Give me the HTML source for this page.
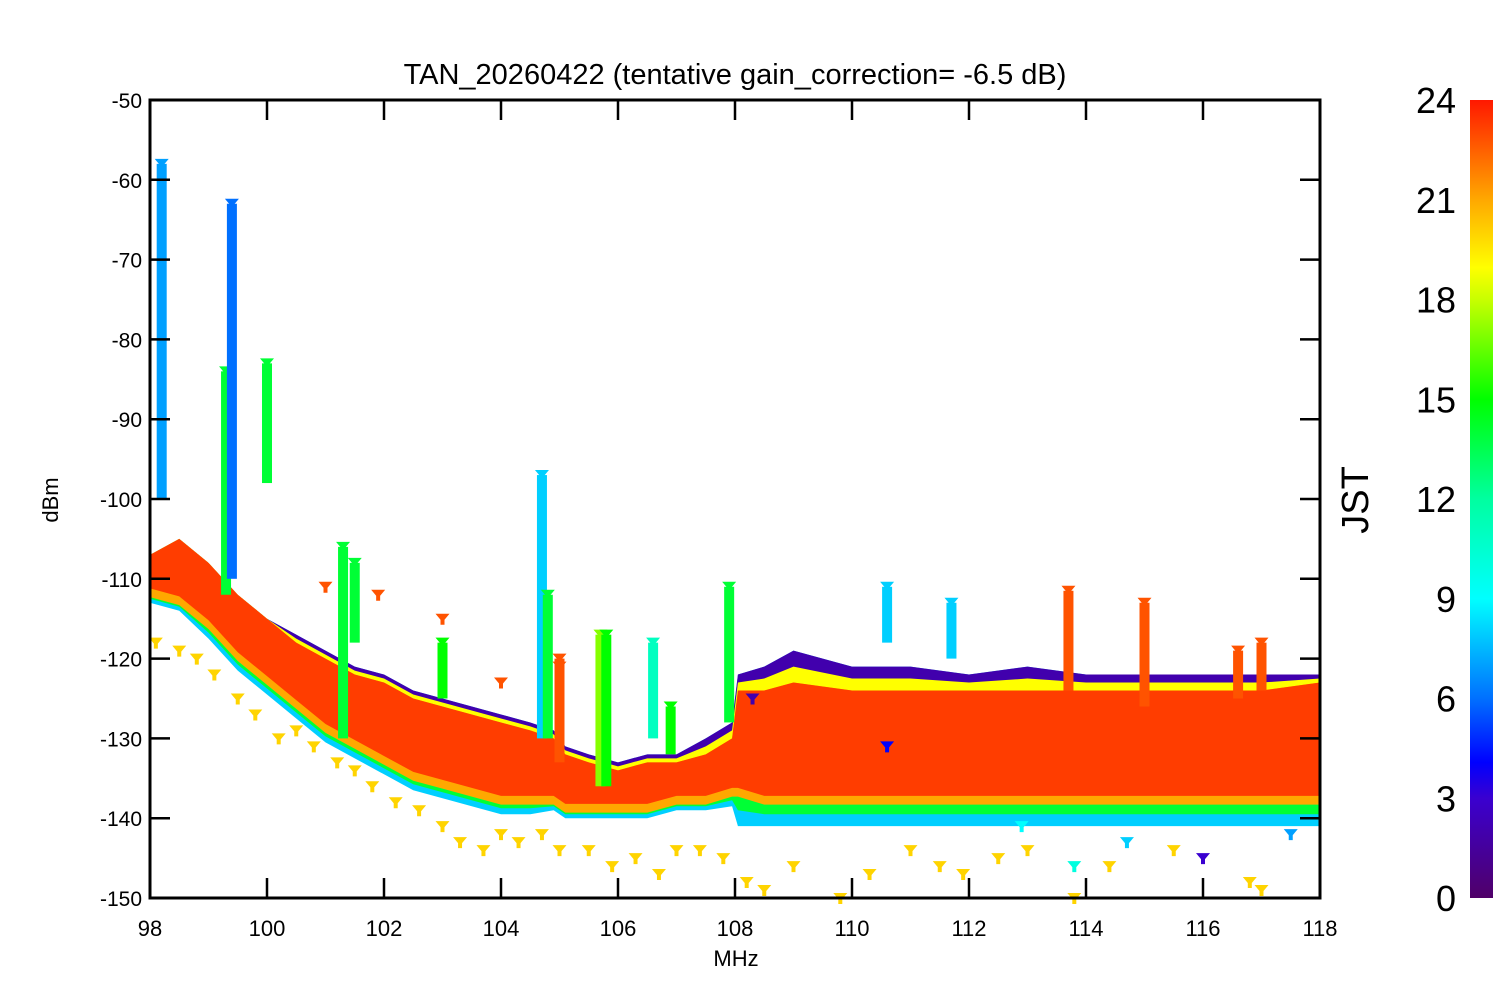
<!DOCTYPE html>
<html><head><meta charset="utf-8"><style>
body{margin:0;background:#fff;}
svg{display:block;font-family:"Liberation Sans",Arial,sans-serif;}
</style></head><body>
<svg id="chart" width="1500" height="1000" xmlns="http://www.w3.org/2000/svg">
<defs>
<linearGradient id="cbar" x1="0" y1="1" x2="0" y2="0">
<stop offset="0" stop-color="#500068"/><stop offset="0.125" stop-color="#3a00d0"/>
<stop offset="0.17" stop-color="#0000ff"/><stop offset="0.25" stop-color="#0070ff"/>
<stop offset="0.375" stop-color="#00ffff"/><stop offset="0.5" stop-color="#00ffa0"/>
<stop offset="0.625" stop-color="#00ff00"/><stop offset="0.75" stop-color="#c8ff00"/>
<stop offset="0.79" stop-color="#ffff00"/><stop offset="0.875" stop-color="#ffa800"/>
<stop offset="1" stop-color="#ff1800"/></linearGradient>
</defs>
<text x="735" y="84" font-size="29" text-anchor="middle">TAN_20260422 (tentative gain_correction= -6.5 dB)</text>
<g id="data"></g>
<rect x="150" y="100" width="1170" height="798" fill="none" stroke="#000" stroke-width="3"/>
<g id="axes"></g>
<text transform="translate(58,500) rotate(-90)" font-size="22" text-anchor="middle">dBm</text>
<text x="736" y="966" font-size="22" text-anchor="middle">MHz</text>
<rect x="1470" y="100" width="23" height="798" fill="url(#cbar)"/>
<text transform="translate(1368,500) rotate(-90)" font-size="38" text-anchor="middle">JST</text>
<g id="cticks"></g>
</svg>
<script>
const xTicks=[98,100,102,104,106,108,110,112,114,116,118];
const yTicks=[-50,-60,-70,-80,-90,-100,-110,-120,-130,-140,-150];
const cTicks=[0,3,6,9,12,15,18,21,24];
const bandFreq=[98,98.5,99,99.5,100,100.5,101,101.5,102,102.5,103,103.5,104,104.5,104.9,105.1,105.5,106,106.5,107,107.5,107.95,108.05,108.5,109,110,111,112,113,114,115,116,117,118];
const bandTop=[-107,-105,-108,-112,-115,-118,-120,-122,-123,-125,-126,-127,-128,-129,-130,-132,-133,-134,-133,-133,-132,-130,-124,-124,-123,-124,-124,-124,-124,-124,-124,-124,-124,-123];
const bandBottom=[-112,-113,-116,-120,-123,-126,-129,-131,-133,-135,-136,-137,-138,-138,-138,-139,-139,-139,-139,-138,-138,-137,-137,-138,-138,-138,-138,-138,-138,-138,-138,-138,-138,-138];
const fringeBottom=[-113,-114,-117.5,-121.5,-124.5,-127.5,-130.5,-132.5,-134.5,-136.5,-137.5,-138.5,-139.5,-139.5,-139,-140,-140,-140,-140,-139,-139,-138.5,-141,-141,-141,-141,-141,-141,-141,-141,-141,-141,-141,-141];
const fringeTop=[-107,-105,-108,-112,-115,-117,-119,-121,-122,-124,-125,-126,-127,-128,-129,-131,-132,-133,-132,-132,-130,-128,-122,-121,-119,-121,-121,-122,-121,-122,-122,-122,-122,-122];
const spikeFreq=[98.2,99.3,99.4,100.0,101.3,101.5,103.0,104.7,104.8,105.0,105.7,105.8,106.6,106.9,107.9,110.6,111.7,113.7,115.0,116.6,117.0];
const spikeTop=[-58,-84,-63,-83,-106,-108,-118,-97,-112,-120,-117,-117,-118,-126,-111,-111,-113,-111.5,-113,-119,-118];
const spikeBottom=[-100,-112,-110,-98,-130,-118,-125,-130,-130,-133,-136,-136,-130,-132,-128,-118,-120,-124,-126,-125,-124];
const spikeHour=[7,14,6,14,14,14,15,8,14,23,17,15,11,15,14,8,8,23,23,23,23];
const scatFreq=[98.1,98.5,98.8,99.1,99.5,99.8,100.2,100.5,100.8,101.2,101.5,101.8,102.2,102.6,103.0,103.3,103.7,104.0,104.3,104.7,105.0,105.5,105.9,106.3,106.7,107.0,107.4,107.8,108.2,108.5,109.0,109.8,110.3,111.0,111.5,111.9,112.5,113.0,113.8,114.4,115.5,116.8,117.0,101.0,101.9,103.0,104.0,105.0,108.3,110.6,112.9,113.8,114.7,116.0,117.5];
const scatDb=[-118,-119,-120,-122,-125,-127,-130,-129,-131,-133,-134,-136,-138,-139,-141,-143,-144,-142,-143,-142,-144,-144,-146,-145,-147,-144,-144,-145,-148,-149,-146,-150,-147,-144,-146,-147,-145,-144,-150,-146,-144,-148,-149,-111,-112,-115,-123,-121,-125,-131,-141,-146,-143,-145,-142];
const scatHour=[20,20,20,20,20,20,20,20,20,20,20,20,20,20,20,20,20,20,20,20,20,20,20,20,20,20,20,20,20,20,20,20,20,20,20,20,20,20,20,20,20,20,20,23,23,23,23,23,2,4,9,10,8,3,7];
const NS='http://www.w3.org/2000/svg';
const X=f=>150+(f-98)*1170/20;
const Y=d=>100+(-50-d)*798/100;
const cs=[[0,[80,0,104]],[3,[58,0,208]],[4,[0,0,255]],[6,[0,112,255]],[9,[0,255,255]],[12,[0,255,160]],[15,[0,255,0]],[18,[200,255,0]],[19,[255,255,0]],[21,[255,168,0]],[24,[255,40,0]]];
function col(h){for(let i=1;i<cs.length;i++){if(h<=cs[i][0]){const a=cs[i-1],b=cs[i],t=(h-a[0])/(b[0]-a[0]);return 'rgb('+a[1].map((v,k)=>Math.round(v+(b[1][k]-v)*t)).join(',')+')';}}return 'rgb(255,40,0)';}
const g=document.getElementById('data');
function poly(top,bot,fill,name){const p=document.createElementNS(NS,'polygon');let pts=[];bandFreq.forEach((f,i)=>pts.push(X(f)+','+Y(top[i])));for(let i=bandFreq.length-1;i>=0;i--)pts.push(X(bandFreq[i])+','+Y(bot[i]));p.setAttribute('points',pts.join(' '));p.setAttribute('fill',fill);


g.appendChild(p);}
poly(fringeTop,fringeBottom,col(8),'lower-fringe-cyan');
const mid1=bandBottom.map((v,i)=>(v+fringeBottom[i])/2);
poly(bandTop,mid1,col(14),'lower-fringe-green');
poly(fringeTop,bandTop,col(2),'upper-fringe-purple');
const yel=bandTop.map((v,i)=>(v+fringeTop[i])/2);
poly(yel,bandBottom,col(19),'upper-fringe-yellow');
poly(bandTop,bandBottom.map(v=>v-0.3),col(21),'band-orange');
poly(bandTop,bandBottom.map(v=>v+0.8),col(23.5),'main-band');
function marker(f,d,h,name){const p=document.createElementNS(NS,'path');const x=X(f),y=Y(d);p.setAttribute('d',`M${x-7},${y-5}L${x+7},${y-5}L${x+2},${y+1}L${x+2},${y+6}L${x-2},${y+6}L${x-2},${y+1}Z`);p.setAttribute('fill',col(h));


g.appendChild(p);}
spikeFreq.forEach((f,i)=>{const r=document.createElementNS(NS,'rect');r.setAttribute('x',X(f)-5);r.setAttribute('y',Y(spikeTop[i]));r.setAttribute('width',10);r.setAttribute('height',Y(spikeBottom[i])-Y(spikeTop[i]));r.setAttribute('fill',col(spikeHour[i]));


g.appendChild(r);marker(f,spikeTop[i],spikeHour[i],'spike-top-marker');});
scatFreq.forEach((f,i)=>marker(f,scatDb[i],scatHour[i],'scatter-point'));
const ax=document.getElementById('axes');
function line(x1,y1,x2,y2,name){const l=document.createElementNS(NS,'line');l.setAttribute('x1',x1);l.setAttribute('y1',y1);l.setAttribute('x2',x2);l.setAttribute('y2',y2);l.setAttribute('stroke','#000');l.setAttribute('stroke-width',2.5);


ax.appendChild(l);}
function text(x,y,s,anchor,size,name,parent){const t=document.createElementNS(NS,'text');t.setAttribute('x',x);t.setAttribute('y',y);t.setAttribute('text-anchor',anchor);t.setAttribute('font-size',size);t.textContent=s;


parent.appendChild(t);}
xTicks.forEach(v=>{const x=X(v);line(x,898,x,878,'x-tick');line(x,100,x,120,'x-tick-top');text(x,936,String(v),'middle',22,'x-tick-label',ax);});
yTicks.forEach(v=>{const y=Y(v);line(150,y,170,y,'y-tick');line(1320,y,1300,y,'y-tick-right');text(142,y+8,String(v),'end',21,'y-tick-label',ax);});
const ct=document.getElementById('cticks');
cTicks.forEach(v=>{const y=898-v*798/24;text(1456,y+13,String(v),'end',36,'colorbar-tick-label',ct);});
</script>
</body></html>
